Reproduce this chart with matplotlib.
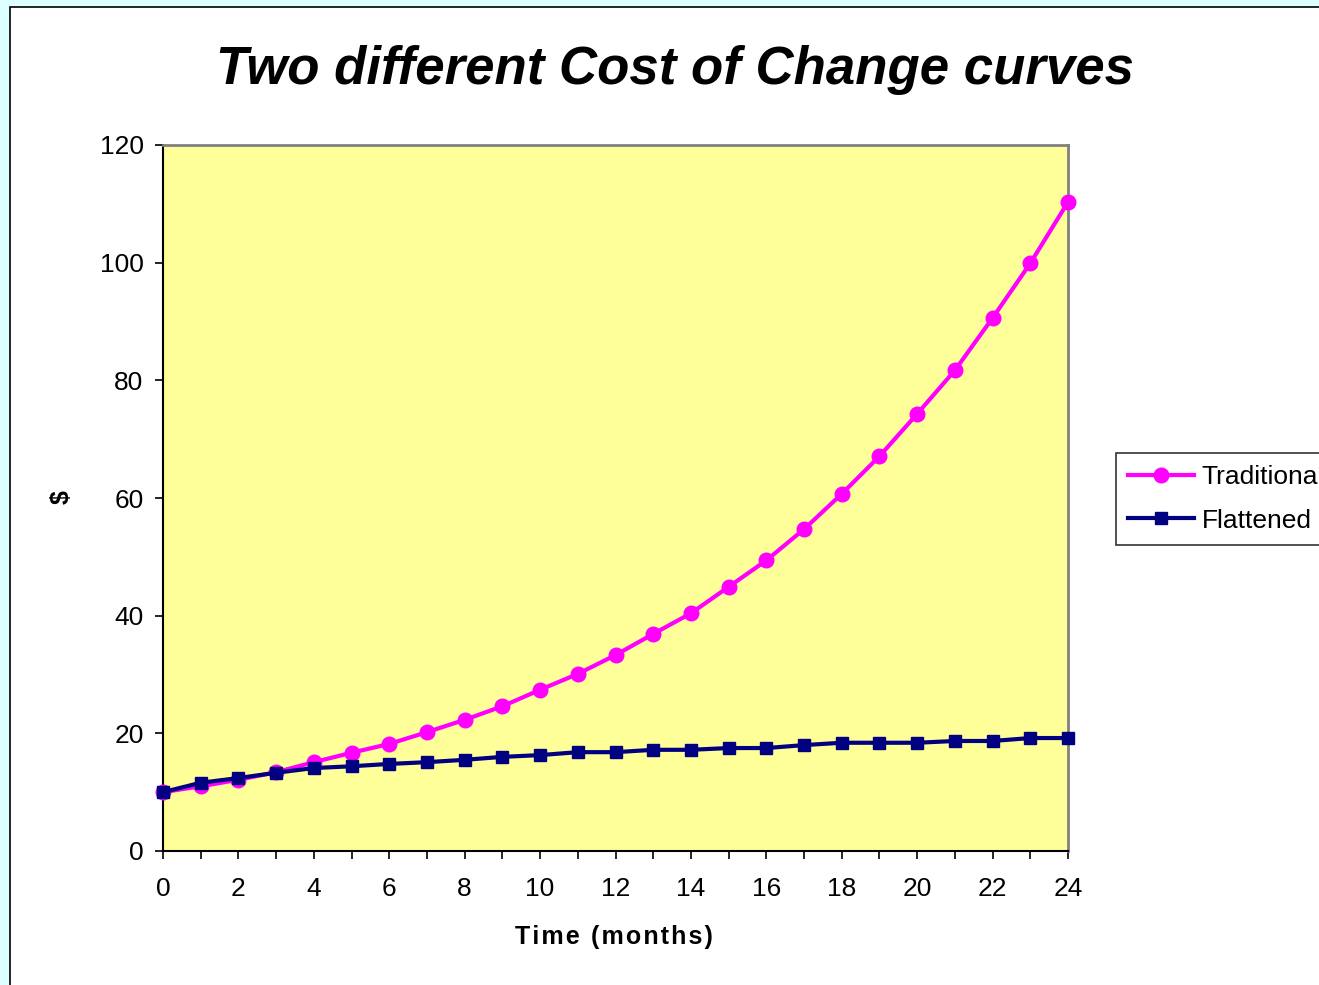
import matplotlib.pyplot as plt
from matplotlib.patches import Rectangle

# ===== DATA =====
months = list(range(25))
traditional = [10.0, 11.0, 12.1, 13.4, 15.1, 16.7, 18.2, 20.2, 22.3, 24.6,
               27.4, 30.1, 33.3, 36.9, 40.4, 44.9, 49.4, 54.7, 60.7, 67.1,
               74.3, 81.7, 90.6, 99.9, 110.3]
flattened = [10.0, 11.6, 12.4, 13.3, 14.1, 14.4, 14.8, 15.1, 15.5, 16.0,
             16.3, 16.8, 16.8, 17.2, 17.2, 17.5, 17.5, 18.0, 18.4, 18.4,
             18.4, 18.7, 18.7, 19.2, 19.2]
series_names = ["Traditional", "Flattened"]
x_ticks = list(range(0, 25, 2))
y_ticks = list(range(0, 121, 20))

plt.rcParams['font.family'] = ['Liberation Sans', 'DejaVu Sans']

W, H = 1319, 985
fig = plt.figure(figsize=(W / 100, H / 100), dpi=100)
fig.patch.set_facecolor('#DDFFFF')

# white chart panel with black frame
fig.patches.append(Rectangle((10 / W, -0.02), 1.1, (H - 7) / H + 0.02,
                             transform=fig.transFigure, facecolor='white',
                             edgecolor='black', linewidth=1.2, zorder=-10))

ax = fig.add_axes([163 / W, 1 - 851 / H, (1068 - 163) / W, (851 - 145) / H])
ax.set_facecolor('#FFFF99')

ax.plot(months, traditional, color='#FF00FF', lw=3, marker='o', ms=10.5,
        label=series_names[0], clip_on=False, zorder=3)
ax.plot(months, flattened, color='#000080', lw=3, marker='s', ms=9,
        label=series_names[1], clip_on=False, zorder=4)

ax.set_xlim(0, 24)
ax.set_ylim(0, 120)
ax.set_xticks(range(25), minor=True)
ax.set_xticks(x_ticks)
ax.set_yticks(y_ticks)
ax.tick_params(which='both', direction='out', length=6, width=1.2, colors='black',
               labelsize=19, pad=8)
ax.tick_params(axis='x', pad=13)

for side in ['left', 'bottom']:
    ax.spines[side].set_color('black')
    ax.spines[side].set_linewidth(1.5)
for side in ['right', 'top']:
    ax.spines[side].set_color('#808080')
    ax.spines[side].set_linewidth(2)

fig.text(675 / W, 1 - 70 / H, "Two different Cost of Change curves",
         ha='center', va='center', fontsize=38, fontweight='bold', style='italic')
fig.text(614 / W, 1 - 937 / H, "\u200a".join("Time (months)"),
         ha='center', va='center', fontsize=18, fontweight='bold')
fig.text(62 / W, 1 - 497 / H, "$", ha='center', va='center', fontsize=18,
         fontweight='bold', rotation=90)

leg = fig.legend(loc='upper left', bbox_to_anchor=(1116 / W, 1 - 453 / H),
                 bbox_transform=fig.transFigure, borderaxespad=0, fontsize=19,
                 frameon=True, fancybox=False, edgecolor='black',
                 handlelength=2.5, handletextpad=0.3, borderpad=0.45,
                 labelspacing=0.75)
leg.get_frame().set_linewidth(1.2)

fig.savefig("out.png", dpi=100, facecolor=fig.get_facecolor())
